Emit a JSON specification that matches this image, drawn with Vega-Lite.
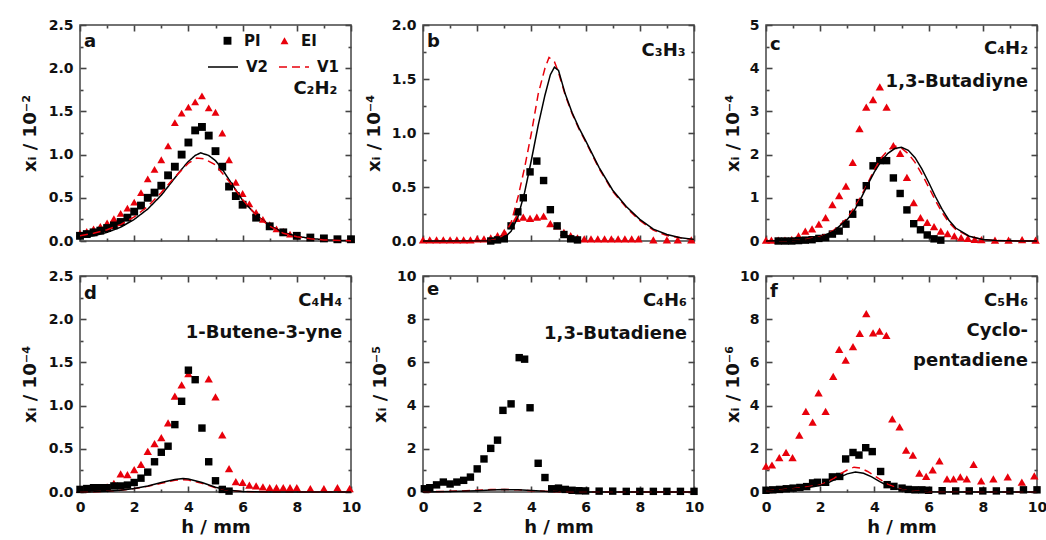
{
"$schema":"https://vega.github.io/schema/vega-lite/v6.json",
"background":"white",
"padding":{"left":20,"top":17,"right":0,"bottom":0},
"columns":3,
"bounds":"flush",
"spacing":{"row":35,"column":72},
"resolve":{"scale":{"color":"independent","shape":"independent","strokeDash":"independent"},"legend":{"color":"independent","shape":"independent","strokeDash":"independent"}},
"config":{
 "view":{"stroke":"#444","strokeWidth":1.5},
 "font":"DejaVu Sans",
 "axis":{"labelFont":"DejaVu Sans","labelFontWeight":"bold","labelFontSize":14,"labelColor":"#111","titleFont":"DejaVu Sans","titleFontWeight":"bold","titleFontSize":18,"titleColor":"#111","tickColor":"#444","tickWidth":1.6,"domain":false,"grid":false},
 "legend":{"labelFont":"DejaVu Sans","labelFontWeight":"bold","labelFontSize":15,"labelColor":"#111"},
 "text":{"font":"DejaVu Sans","fontWeight":"bold","fontSize":18,"color":"#111"}
},
"datasets":{
"a":[
{"h":0,"v":0.09,"s":"EI"},{"h":0.25,"v":0.11,"s":"EI"},{"h":0.5,"v":0.14,"s":"EI"},{"h":0.75,"v":0.17,"s":"EI"},{"h":1,"v":0.21,"s":"EI"},{"h":1.25,"v":0.26,"s":"EI"},{"h":1.5,"v":0.32,"s":"EI"},{"h":1.75,"v":0.38,"s":"EI"},{"h":2,"v":0.45,"s":"EI"},{"h":2.25,"v":0.56,"s":"EI"},{"h":2.5,"v":0.72,"s":"EI"},{"h":2.75,"v":0.83,"s":"EI"},{"h":3,"v":0.94,"s":"EI"},{"h":3.25,"v":1.1,"s":"EI"},{"h":3.5,"v":1.37,"s":"EI"},{"h":3.75,"v":1.48,"s":"EI"},{"h":4,"v":1.55,"s":"EI"},{"h":4.25,"v":1.61,"s":"EI"},{"h":4.5,"v":1.68,"s":"EI"},{"h":4.75,"v":1.54,"s":"EI"},{"h":5,"v":1.49,"s":"EI"},{"h":5.25,"v":1.25,"s":"EI"},{"h":5.5,"v":0.94,"s":"EI"},{"h":5.75,"v":0.68,"s":"EI"},{"h":6,"v":0.55,"s":"EI"},{"h":6.25,"v":0.43,"s":"EI"},{"h":6.5,"v":0.33,"s":"EI"},{"h":6.75,"v":0.25,"s":"EI"},{"h":7,"v":0.19,"s":"EI"},{"h":7.25,"v":0.14,"s":"EI"},{"h":7.5,"v":0.11,"s":"EI"},{"h":7.75,"v":0.08,"s":"EI"},{"h":8,"v":0.06,"s":"EI"},{"h":8.5,"v":0.04,"s":"EI"},{"h":9,"v":0.03,"s":"EI"},{"h":9.5,"v":0.02,"s":"EI"},{"h":10,"v":0.02,"s":"EI"},
{"h":0,"v":0.06,"s":"PI"},{"h":0.25,"v":0.08,"s":"PI"},{"h":0.5,"v":0.1,"s":"PI"},{"h":0.75,"v":0.12,"s":"PI"},{"h":1,"v":0.15,"s":"PI"},{"h":1.25,"v":0.18,"s":"PI"},{"h":1.5,"v":0.22,"s":"PI"},{"h":1.75,"v":0.27,"s":"PI"},{"h":2,"v":0.34,"s":"PI"},{"h":2.25,"v":0.41,"s":"PI"},{"h":2.5,"v":0.5,"s":"PI"},{"h":2.75,"v":0.56,"s":"PI"},{"h":3,"v":0.64,"s":"PI"},{"h":3.25,"v":0.76,"s":"PI"},{"h":3.5,"v":0.86,"s":"PI"},{"h":3.75,"v":1.0,"s":"PI"},{"h":4,"v":1.14,"s":"PI"},{"h":4.25,"v":1.28,"s":"PI"},{"h":4.5,"v":1.32,"s":"PI"},{"h":4.75,"v":1.22,"s":"PI"},{"h":5,"v":1.04,"s":"PI"},{"h":5.25,"v":0.86,"s":"PI"},{"h":5.5,"v":0.63,"s":"PI"},{"h":5.75,"v":0.52,"s":"PI"},{"h":6,"v":0.42,"s":"PI"},{"h":6.5,"v":0.27,"s":"PI"},{"h":7,"v":0.17,"s":"PI"},{"h":7.5,"v":0.1,"s":"PI"},{"h":8,"v":0.06,"s":"PI"},{"h":8.5,"v":0.04,"s":"PI"},{"h":9,"v":0.03,"s":"PI"},{"h":9.5,"v":0.02,"s":"PI"},{"h":10,"v":0.02,"s":"PI"},
{"h":0,"v":0.04,"s":"V2"},{"h":0.5,"v":0.06,"s":"V2"},{"h":1,"v":0.1,"s":"V2"},{"h":1.5,"v":0.16,"s":"V2"},{"h":2,"v":0.25,"s":"V2"},{"h":2.5,"v":0.37,"s":"V2"},{"h":3,"v":0.53,"s":"V2"},{"h":3.25,"v":0.63,"s":"V2"},{"h":3.5,"v":0.73,"s":"V2"},{"h":3.75,"v":0.83,"s":"V2"},{"h":4,"v":0.92,"s":"V2"},{"h":4.25,"v":0.99,"s":"V2"},{"h":4.45,"v":1.02,"s":"V2"},{"h":4.75,"v":0.99,"s":"V2"},{"h":5,"v":0.93,"s":"V2"},{"h":5.25,"v":0.83,"s":"V2"},{"h":5.5,"v":0.71,"s":"V2"},{"h":5.75,"v":0.59,"s":"V2"},{"h":6,"v":0.47,"s":"V2"},{"h":6.5,"v":0.3,"s":"V2"},{"h":7,"v":0.18,"s":"V2"},{"h":7.5,"v":0.1,"s":"V2"},{"h":8,"v":0.055,"s":"V2"},{"h":8.5,"v":0.03,"s":"V2"},{"h":9,"v":0.015,"s":"V2"},{"h":9.5,"v":0.008,"s":"V2"},{"h":10,"v":0.004,"s":"V2"},
{"h":0,"v":0.06,"s":"V1"},{"h":0.5,"v":0.09,"s":"V1"},{"h":1,"v":0.13,"s":"V1"},{"h":1.5,"v":0.19,"s":"V1"},{"h":2,"v":0.28,"s":"V1"},{"h":2.5,"v":0.4,"s":"V1"},{"h":3,"v":0.56,"s":"V1"},{"h":3.5,"v":0.74,"s":"V1"},{"h":4,"v":0.9,"s":"V1"},{"h":4.3,"v":0.96,"s":"V1"},{"h":4.6,"v":0.95,"s":"V1"},{"h":5,"v":0.88,"s":"V1"},{"h":5.5,"v":0.69,"s":"V1"},{"h":6,"v":0.48,"s":"V1"},{"h":6.5,"v":0.3,"s":"V1"},{"h":7,"v":0.17,"s":"V1"},{"h":7.5,"v":0.09,"s":"V1"},{"h":8,"v":0.05,"s":"V1"},{"h":8.5,"v":0.025,"s":"V1"},{"h":9,"v":0.012,"s":"V1"},{"h":10,"v":0.003,"s":"V1"}
],
"b":[
{"h":0,"v":0.01,"s":"EI"},{"h":0.25,"v":0.01,"s":"EI"},{"h":0.5,"v":0.01,"s":"EI"},{"h":0.75,"v":0.01,"s":"EI"},{"h":1,"v":0.01,"s":"EI"},{"h":1.25,"v":0.01,"s":"EI"},{"h":1.5,"v":0.01,"s":"EI"},{"h":1.75,"v":0.01,"s":"EI"},{"h":2,"v":0.02,"s":"EI"},{"h":2.25,"v":0.02,"s":"EI"},{"h":2.5,"v":0.03,"s":"EI"},{"h":2.75,"v":0.05,"s":"EI"},{"h":3,"v":0.08,"s":"EI"},{"h":3.25,"v":0.15,"s":"EI"},{"h":3.45,"v":0.21,"s":"EI"},{"h":3.7,"v":0.22,"s":"EI"},{"h":3.95,"v":0.21,"s":"EI"},{"h":4.2,"v":0.22,"s":"EI"},{"h":4.45,"v":0.23,"s":"EI"},{"h":4.7,"v":0.16,"s":"EI"},{"h":4.95,"v":0.14,"s":"EI"},{"h":5.2,"v":0.08,"s":"EI"},{"h":5.45,"v":0.05,"s":"EI"},{"h":5.7,"v":0.03,"s":"EI"},{"h":5.95,"v":0.02,"s":"EI"},{"h":6.2,"v":0.02,"s":"EI"},{"h":6.45,"v":0.02,"s":"EI"},{"h":6.7,"v":0.02,"s":"EI"},{"h":6.95,"v":0.02,"s":"EI"},{"h":7.2,"v":0.02,"s":"EI"},{"h":7.45,"v":0.02,"s":"EI"},{"h":7.7,"v":0.02,"s":"EI"},{"h":7.95,"v":0.02,"s":"EI"},{"h":8.5,"v":0.01,"s":"EI"},{"h":9,"v":0.01,"s":"EI"},{"h":9.4,"v":0.01,"s":"EI"},{"h":9.9,"v":0.01,"s":"EI"},
{"h":2.5,"v":0.0,"s":"PI"},{"h":2.75,"v":0.01,"s":"PI"},{"h":3,"v":0.02,"s":"PI"},{"h":3.25,"v":0.14,"s":"PI"},{"h":3.5,"v":0.27,"s":"PI"},{"h":3.7,"v":0.4,"s":"PI"},{"h":3.95,"v":0.64,"s":"PI"},{"h":4.2,"v":0.74,"s":"PI"},{"h":4.45,"v":0.56,"s":"PI"},{"h":4.7,"v":0.29,"s":"PI"},{"h":4.95,"v":0.14,"s":"PI"},{"h":5.2,"v":0.06,"s":"PI"},{"h":5.45,"v":0.02,"s":"PI"},{"h":5.7,"v":0.01,"s":"PI"},
{"h":0,"v":0,"s":"V2"},{"h":2.5,"v":0.003,"s":"V2"},{"h":2.75,"v":0.01,"s":"V2"},{"h":3,"v":0.03,"s":"V2"},{"h":3.25,"v":0.09,"s":"V2"},{"h":3.5,"v":0.22,"s":"V2"},{"h":3.75,"v":0.45,"s":"V2"},{"h":4,"v":0.75,"s":"V2"},{"h":4.25,"v":1.07,"s":"V2"},{"h":4.5,"v":1.35,"s":"V2"},{"h":4.7,"v":1.54,"s":"V2"},{"h":4.85,"v":1.61,"s":"V2"},{"h":5,"v":1.58,"s":"V2"},{"h":5.25,"v":1.36,"s":"V2"},{"h":5.5,"v":1.19,"s":"V2"},{"h":5.75,"v":1.05,"s":"V2"},{"h":6,"v":0.93,"s":"V2"},{"h":6.5,"v":0.68,"s":"V2"},{"h":7,"v":0.47,"s":"V2"},{"h":7.5,"v":0.32,"s":"V2"},{"h":8,"v":0.2,"s":"V2"},{"h":8.5,"v":0.11,"s":"V2"},{"h":9,"v":0.06,"s":"V2"},{"h":9.5,"v":0.03,"s":"V2"},{"h":10,"v":0.015,"s":"V2"},
{"h":0,"v":0,"s":"V1"},{"h":2.5,"v":0.005,"s":"V1"},{"h":2.75,"v":0.02,"s":"V1"},{"h":3,"v":0.06,"s":"V1"},{"h":3.25,"v":0.17,"s":"V1"},{"h":3.5,"v":0.4,"s":"V1"},{"h":3.75,"v":0.68,"s":"V1"},{"h":4,"v":1.0,"s":"V1"},{"h":4.25,"v":1.36,"s":"V1"},{"h":4.5,"v":1.6,"s":"V1"},{"h":4.65,"v":1.7,"s":"V1"},{"h":4.85,"v":1.66,"s":"V1"},{"h":5,"v":1.56,"s":"V1"},{"h":5.25,"v":1.35,"s":"V1"},{"h":5.5,"v":1.18,"s":"V1"},{"h":5.75,"v":1.04,"s":"V1"},{"h":6,"v":0.92,"s":"V1"},{"h":6.5,"v":0.67,"s":"V1"},{"h":7,"v":0.46,"s":"V1"},{"h":7.5,"v":0.31,"s":"V1"},{"h":8,"v":0.19,"s":"V1"},{"h":8.5,"v":0.1,"s":"V1"},{"h":9,"v":0.05,"s":"V1"},{"h":9.5,"v":0.03,"s":"V1"},{"h":10,"v":0.01,"s":"V1"}
],
"c":[
{"h":0,"v":0.02,"s":"EI"},{"h":0.2,"v":0.02,"s":"EI"},{"h":0.45,"v":0.02,"s":"EI"},{"h":0.7,"v":0.02,"s":"EI"},{"h":0.95,"v":0.04,"s":"EI"},{"h":1.2,"v":0.12,"s":"EI"},{"h":1.45,"v":0.23,"s":"EI"},{"h":1.7,"v":0.28,"s":"EI"},{"h":1.95,"v":0.39,"s":"EI"},{"h":2.2,"v":0.54,"s":"EI"},{"h":2.45,"v":0.84,"s":"EI"},{"h":2.7,"v":1.05,"s":"EI"},{"h":2.95,"v":1.27,"s":"EI"},{"h":3.2,"v":1.82,"s":"EI"},{"h":3.45,"v":2.6,"s":"EI"},{"h":3.7,"v":3.1,"s":"EI"},{"h":3.95,"v":3.27,"s":"EI"},{"h":4.2,"v":3.57,"s":"EI"},{"h":4.45,"v":3.1,"s":"EI"},{"h":4.7,"v":2.21,"s":"EI"},{"h":4.95,"v":2.03,"s":"EI"},{"h":5.2,"v":1.47,"s":"EI"},{"h":5.45,"v":0.89,"s":"EI"},{"h":5.7,"v":0.54,"s":"EI"},{"h":5.95,"v":0.43,"s":"EI"},{"h":6.2,"v":0.33,"s":"EI"},{"h":6.45,"v":0.23,"s":"EI"},{"h":6.7,"v":0.17,"s":"EI"},{"h":6.95,"v":0.12,"s":"EI"},{"h":7.2,"v":0.08,"s":"EI"},{"h":7.45,"v":0.06,"s":"EI"},{"h":7.7,"v":0.04,"s":"EI"},{"h":7.95,"v":0.03,"s":"EI"},{"h":8.45,"v":0.02,"s":"EI"},{"h":8.95,"v":0.02,"s":"EI"},{"h":9.45,"v":0.03,"s":"EI"},{"h":9.95,"v":0.02,"s":"EI"},
{"h":0.45,"v":0,"s":"PI"},{"h":0.7,"v":0,"s":"PI"},{"h":0.95,"v":0,"s":"PI"},{"h":1.2,"v":0.01,"s":"PI"},{"h":1.45,"v":0.02,"s":"PI"},{"h":1.7,"v":0.03,"s":"PI"},{"h":1.95,"v":0.06,"s":"PI"},{"h":2.2,"v":0.08,"s":"PI"},{"h":2.45,"v":0.16,"s":"PI"},{"h":2.7,"v":0.23,"s":"PI"},{"h":2.95,"v":0.39,"s":"PI"},{"h":3.2,"v":0.62,"s":"PI"},{"h":3.45,"v":0.89,"s":"PI"},{"h":3.7,"v":1.28,"s":"PI"},{"h":3.95,"v":1.74,"s":"PI"},{"h":4.2,"v":1.86,"s":"PI"},{"h":4.45,"v":1.86,"s":"PI"},{"h":4.7,"v":1.46,"s":"PI"},{"h":4.95,"v":1.1,"s":"PI"},{"h":5.2,"v":0.72,"s":"PI"},{"h":5.45,"v":0.4,"s":"PI"},{"h":5.7,"v":0.26,"s":"PI"},{"h":5.95,"v":0.14,"s":"PI"},{"h":6.2,"v":0.05,"s":"PI"},{"h":6.45,"v":0.02,"s":"PI"},
{"h":0,"v":0,"s":"V2"},{"h":1,"v":0.01,"s":"V2"},{"h":1.5,"v":0.03,"s":"V2"},{"h":2,"v":0.09,"s":"V2"},{"h":2.5,"v":0.23,"s":"V2"},{"h":3,"v":0.5,"s":"V2"},{"h":3.25,"v":0.7,"s":"V2"},{"h":3.5,"v":0.98,"s":"V2"},{"h":3.75,"v":1.3,"s":"V2"},{"h":4,"v":1.6,"s":"V2"},{"h":4.25,"v":1.85,"s":"V2"},{"h":4.5,"v":2.03,"s":"V2"},{"h":4.75,"v":2.14,"s":"V2"},{"h":5,"v":2.17,"s":"V2"},{"h":5.25,"v":2.1,"s":"V2"},{"h":5.5,"v":1.93,"s":"V2"},{"h":5.75,"v":1.67,"s":"V2"},{"h":6,"v":1.36,"s":"V2"},{"h":6.25,"v":1.03,"s":"V2"},{"h":6.5,"v":0.73,"s":"V2"},{"h":6.75,"v":0.48,"s":"V2"},{"h":7,"v":0.3,"s":"V2"},{"h":7.5,"v":0.11,"s":"V2"},{"h":8,"v":0.035,"s":"V2"},{"h":8.5,"v":0.01,"s":"V2"},{"h":9,"v":0.003,"s":"V2"},{"h":10,"v":0,"s":"V2"},
{"h":0,"v":0,"s":"V1"},{"h":1,"v":0.01,"s":"V1"},{"h":1.5,"v":0.04,"s":"V1"},{"h":2,"v":0.1,"s":"V1"},{"h":2.5,"v":0.25,"s":"V1"},{"h":3,"v":0.53,"s":"V1"},{"h":3.5,"v":1.02,"s":"V1"},{"h":4,"v":1.65,"s":"V1"},{"h":4.25,"v":1.92,"s":"V1"},{"h":4.5,"v":2.1,"s":"V1"},{"h":4.75,"v":2.2,"s":"V1"},{"h":5,"v":2.15,"s":"V1"},{"h":5.25,"v":2.02,"s":"V1"},{"h":5.5,"v":1.82,"s":"V1"},{"h":5.75,"v":1.55,"s":"V1"},{"h":6,"v":1.25,"s":"V1"},{"h":6.25,"v":0.94,"s":"V1"},{"h":6.5,"v":0.66,"s":"V1"},{"h":6.75,"v":0.43,"s":"V1"},{"h":7,"v":0.27,"s":"V1"},{"h":7.5,"v":0.1,"s":"V1"},{"h":8,"v":0.03,"s":"V1"},{"h":8.5,"v":0.01,"s":"V1"},{"h":10,"v":0,"s":"V1"}
],
"d":[
{"h":0,"v":0.03,"s":"EI"},{"h":0.25,"v":0.04,"s":"EI"},{"h":0.5,"v":0.05,"s":"EI"},{"h":0.75,"v":0.05,"s":"EI"},{"h":1,"v":0.06,"s":"EI"},{"h":1.25,"v":0.1,"s":"EI"},{"h":1.5,"v":0.21,"s":"EI"},{"h":1.75,"v":0.2,"s":"EI"},{"h":2,"v":0.26,"s":"EI"},{"h":2.25,"v":0.32,"s":"EI"},{"h":2.5,"v":0.47,"s":"EI"},{"h":2.75,"v":0.56,"s":"EI"},{"h":3,"v":0.63,"s":"EI"},{"h":3.25,"v":0.8,"s":"EI"},{"h":3.5,"v":1.11,"s":"EI"},{"h":3.75,"v":1.24,"s":"EI"},{"h":4,"v":1.37,"s":"EI"},{"h":4.75,"v":1.31,"s":"EI"},{"h":5,"v":1.1,"s":"EI"},{"h":5.25,"v":0.66,"s":"EI"},{"h":5.5,"v":0.27,"s":"EI"},{"h":5.75,"v":0.12,"s":"EI"},{"h":6,"v":0.11,"s":"EI"},{"h":6.25,"v":0.08,"s":"EI"},{"h":6.5,"v":0.07,"s":"EI"},{"h":6.75,"v":0.06,"s":"EI"},{"h":7,"v":0.05,"s":"EI"},{"h":7.25,"v":0.05,"s":"EI"},{"h":7.5,"v":0.05,"s":"EI"},{"h":7.75,"v":0.05,"s":"EI"},{"h":8,"v":0.05,"s":"EI"},{"h":8.5,"v":0.04,"s":"EI"},{"h":9,"v":0.04,"s":"EI"},{"h":9.5,"v":0.05,"s":"EI"},{"h":9.95,"v":0.04,"s":"EI"},
{"h":0,"v":0.03,"s":"PI"},{"h":0.25,"v":0.04,"s":"PI"},{"h":0.5,"v":0.05,"s":"PI"},{"h":0.75,"v":0.05,"s":"PI"},{"h":1,"v":0.05,"s":"PI"},{"h":1.25,"v":0.07,"s":"PI"},{"h":1.5,"v":0.07,"s":"PI"},{"h":1.75,"v":0.08,"s":"PI"},{"h":2,"v":0.11,"s":"PI"},{"h":2.25,"v":0.16,"s":"PI"},{"h":2.5,"v":0.23,"s":"PI"},{"h":2.75,"v":0.35,"s":"PI"},{"h":3,"v":0.46,"s":"PI"},{"h":3.25,"v":0.53,"s":"PI"},{"h":3.5,"v":0.78,"s":"PI"},{"h":3.75,"v":1.05,"s":"PI"},{"h":4,"v":1.41,"s":"PI"},{"h":4.25,"v":1.3,"s":"PI"},{"h":4.5,"v":0.74,"s":"PI"},{"h":4.75,"v":0.35,"s":"PI"},{"h":5,"v":0.13,"s":"PI"},{"h":5.25,"v":0.03,"s":"PI"},{"h":5.5,"v":0.01,"s":"PI"},
{"h":0,"v":0,"s":"V2"},{"h":0.5,"v":0.003,"s":"V2"},{"h":1,"v":0.01,"s":"V2"},{"h":1.5,"v":0.02,"s":"V2"},{"h":2,"v":0.04,"s":"V2"},{"h":2.5,"v":0.07,"s":"V2"},{"h":3,"v":0.11,"s":"V2"},{"h":3.5,"v":0.145,"s":"V2"},{"h":3.8,"v":0.155,"s":"V2"},{"h":4,"v":0.15,"s":"V2"},{"h":4.5,"v":0.11,"s":"V2"},{"h":5,"v":0.055,"s":"V2"},{"h":5.5,"v":0.02,"s":"V2"},{"h":6,"v":0.006,"s":"V2"},{"h":7,"v":0.001,"s":"V2"},{"h":10,"v":0,"s":"V2"},
{"h":0,"v":0,"s":"V1"},{"h":0.5,"v":0.003,"s":"V1"},{"h":1,"v":0.01,"s":"V1"},{"h":1.5,"v":0.02,"s":"V1"},{"h":2,"v":0.04,"s":"V1"},{"h":2.5,"v":0.065,"s":"V1"},{"h":3,"v":0.1,"s":"V1"},{"h":3.5,"v":0.135,"s":"V1"},{"h":3.75,"v":0.142,"s":"V1"},{"h":4,"v":0.138,"s":"V1"},{"h":4.5,"v":0.1,"s":"V1"},{"h":5,"v":0.05,"s":"V1"},{"h":5.5,"v":0.018,"s":"V1"},{"h":6,"v":0.005,"s":"V1"},{"h":7,"v":0.001,"s":"V1"},{"h":10,"v":0,"s":"V1"}
],
"e":[
{"h":0.05,"v":0.15,"s":"PI"},{"h":0.25,"v":0.2,"s":"PI"},{"h":0.5,"v":0.33,"s":"PI"},{"h":0.75,"v":0.46,"s":"PI"},{"h":1,"v":0.37,"s":"PI"},{"h":1.25,"v":0.46,"s":"PI"},{"h":1.5,"v":0.54,"s":"PI"},{"h":1.75,"v":0.69,"s":"PI"},{"h":2,"v":1.07,"s":"PI"},{"h":2.25,"v":1.53,"s":"PI"},{"h":2.5,"v":2.02,"s":"PI"},{"h":2.75,"v":2.4,"s":"PI"},{"h":2.95,"v":3.78,"s":"PI"},{"h":3.25,"v":4.08,"s":"PI"},{"h":3.55,"v":6.22,"s":"PI"},{"h":3.75,"v":6.15,"s":"PI"},{"h":3.95,"v":3.9,"s":"PI"},{"h":4.25,"v":1.33,"s":"PI"},{"h":4.5,"v":0.67,"s":"PI"},{"h":4.75,"v":0.15,"s":"PI"},{"h":5,"v":0.18,"s":"PI"},{"h":5.25,"v":0.12,"s":"PI"},{"h":5.5,"v":0.08,"s":"PI"},{"h":5.75,"v":0.06,"s":"PI"},{"h":6,"v":0.05,"s":"PI"},{"h":6.5,"v":0.04,"s":"PI"},{"h":7,"v":0.04,"s":"PI"},{"h":7.5,"v":0.03,"s":"PI"},{"h":8,"v":0.03,"s":"PI"},{"h":8.5,"v":0.03,"s":"PI"},{"h":9,"v":0.03,"s":"PI"},{"h":9.5,"v":0.03,"s":"PI"},{"h":10,"v":0.03,"s":"PI"},
{"h":0,"v":0,"s":"V2"},{"h":1,"v":0.02,"s":"V2"},{"h":2,"v":0.06,"s":"V2"},{"h":2.5,"v":0.09,"s":"V2"},{"h":3,"v":0.11,"s":"V2"},{"h":3.5,"v":0.1,"s":"V2"},{"h":4,"v":0.07,"s":"V2"},{"h":4.5,"v":0.03,"s":"V2"},{"h":5,"v":0.01,"s":"V2"},{"h":6,"v":0,"s":"V2"},{"h":10,"v":0,"s":"V2"},
{"h":0,"v":0.01,"s":"V1"},{"h":1,"v":0.03,"s":"V1"},{"h":2,"v":0.08,"s":"V1"},{"h":2.5,"v":0.11,"s":"V1"},{"h":3,"v":0.12,"s":"V1"},{"h":3.5,"v":0.1,"s":"V1"},{"h":4,"v":0.06,"s":"V1"},{"h":4.5,"v":0.03,"s":"V1"},{"h":5,"v":0.01,"s":"V1"},{"h":6,"v":0,"s":"V1"},{"h":10,"v":0,"s":"V1"}
],
"f":[
{"h":0,"v":1.2,"s":"EI"},{"h":0.22,"v":1.25,"s":"EI"},{"h":0.49,"v":1.59,"s":"EI"},{"h":0.74,"v":1.83,"s":"EI"},{"h":0.98,"v":1.59,"s":"EI"},{"h":1.23,"v":2.63,"s":"EI"},{"h":1.47,"v":3.73,"s":"EI"},{"h":1.72,"v":3.24,"s":"EI"},{"h":1.94,"v":4.59,"s":"EI"},{"h":2.2,"v":3.73,"s":"EI"},{"h":2.48,"v":5.35,"s":"EI"},{"h":2.7,"v":6.6,"s":"EI"},{"h":2.94,"v":6.11,"s":"EI"},{"h":3.21,"v":6.73,"s":"EI"},{"h":3.46,"v":7.34,"s":"EI"},{"h":3.7,"v":8.26,"s":"EI"},{"h":3.95,"v":7.37,"s":"EI"},{"h":4.19,"v":7.45,"s":"EI"},{"h":4.44,"v":7.25,"s":"EI"},{"h":4.66,"v":3.39,"s":"EI"},{"h":4.93,"v":3.01,"s":"EI"},{"h":5.17,"v":1.94,"s":"EI"},{"h":5.42,"v":1.71,"s":"EI"},{"h":5.66,"v":0.87,"s":"EI"},{"h":5.91,"v":0.72,"s":"EI"},{"h":6.15,"v":1.02,"s":"EI"},{"h":6.4,"v":1.44,"s":"EI"},{"h":6.68,"v":0.61,"s":"EI"},{"h":6.92,"v":0.61,"s":"EI"},{"h":7.17,"v":0.7,"s":"EI"},{"h":7.41,"v":0.61,"s":"EI"},{"h":7.66,"v":1.28,"s":"EI"},{"h":7.94,"v":0.52,"s":"EI"},{"h":8.39,"v":0.61,"s":"EI"},{"h":8.92,"v":0.7,"s":"EI"},{"h":9.44,"v":0.46,"s":"EI"},{"h":9.9,"v":0.75,"s":"EI"},
{"h":0,"v":0.08,"s":"PI"},{"h":0.25,"v":0.1,"s":"PI"},{"h":0.5,"v":0.12,"s":"PI"},{"h":0.75,"v":0.15,"s":"PI"},{"h":1,"v":0.18,"s":"PI"},{"h":1.25,"v":0.21,"s":"PI"},{"h":1.5,"v":0.25,"s":"PI"},{"h":1.72,"v":0.42,"s":"PI"},{"h":1.9,"v":0.45,"s":"PI"},{"h":2.2,"v":0.45,"s":"PI"},{"h":2.45,"v":0.7,"s":"PI"},{"h":2.72,"v":0.72,"s":"PI"},{"h":2.94,"v":1.53,"s":"PI"},{"h":3.21,"v":1.83,"s":"PI"},{"h":3.43,"v":1.71,"s":"PI"},{"h":3.68,"v":2.05,"s":"PI"},{"h":3.92,"v":1.87,"s":"PI"},{"h":4.23,"v":0.95,"s":"PI"},{"h":4.47,"v":0.34,"s":"PI"},{"h":4.72,"v":0.26,"s":"PI"},{"h":5.02,"v":0.18,"s":"PI"},{"h":5.25,"v":0.12,"s":"PI"},{"h":5.5,"v":0.1,"s":"PI"},{"h":5.75,"v":0.1,"s":"PI"},{"h":6,"v":0.08,"s":"PI"},{"h":6.5,"v":0.06,"s":"PI"},{"h":7,"v":0.05,"s":"PI"},{"h":7.5,"v":0.05,"s":"PI"},{"h":8,"v":0.05,"s":"PI"},{"h":8.5,"v":0.05,"s":"PI"},{"h":9,"v":0.05,"s":"PI"},{"h":9.5,"v":0.1,"s":"PI"},{"h":10,"v":0.1,"s":"PI"},
{"h":0,"v":0.05,"s":"V2"},{"h":0.5,"v":0.08,"s":"V2"},{"h":1,"v":0.14,"s":"V2"},{"h":1.5,"v":0.2,"s":"V2"},{"h":2,"v":0.3,"s":"V2"},{"h":2.25,"v":0.4,"s":"V2"},{"h":2.5,"v":0.55,"s":"V2"},{"h":2.75,"v":0.7,"s":"V2"},{"h":3,"v":0.84,"s":"V2"},{"h":3.3,"v":0.92,"s":"V2"},{"h":3.6,"v":0.87,"s":"V2"},{"h":3.9,"v":0.7,"s":"V2"},{"h":4.2,"v":0.48,"s":"V2"},{"h":4.5,"v":0.28,"s":"V2"},{"h":4.8,"v":0.15,"s":"V2"},{"h":5,"v":0.1,"s":"V2"},{"h":5.5,"v":0.04,"s":"V2"},{"h":6,"v":0.015,"s":"V2"},{"h":7,"v":0.005,"s":"V2"},{"h":10,"v":0,"s":"V2"},
{"h":0,"v":0.05,"s":"V1"},{"h":1,"v":0.15,"s":"V1"},{"h":2,"v":0.32,"s":"V1"},{"h":2.5,"v":0.62,"s":"V1"},{"h":2.75,"v":0.85,"s":"V1"},{"h":3,"v":1.02,"s":"V1"},{"h":3.25,"v":1.15,"s":"V1"},{"h":3.5,"v":1.1,"s":"V1"},{"h":3.75,"v":0.95,"s":"V1"},{"h":4,"v":0.75,"s":"V1"},{"h":4.5,"v":0.35,"s":"V1"},{"h":5,"v":0.12,"s":"V1"},{"h":5.5,"v":0.04,"s":"V1"},{"h":6,"v":0.01,"s":"V1"},{"h":10,"v":0,"s":"V1"}
]
},
"concat":[
{
 "data":{"name":"a"},"width":271,"height":216,
 "resolve":{"scale":{"color":"independent"},"legend":{"color":"independent","shape":"independent","strokeDash":"independent"}},
 "layer":[
  {"transform":[{"filter":"datum.s==='EI'||datum.s==='PI'"}],
   "mark":{"type":"point","filled":true,"size":62,"opacity":1},
   "encoding":{
    "x":{"field":"h","type":"quantitative","scale":{"domain":[0,10],"nice":false},"axis":{"orient":"bottom","values":[0,1,2,3,4,5,6,7,8,9,10],"labels":false,"title":null,"tickSize":{"condition":{"test":"round(datum.value) % 2 === 1","value":-3},"value":-6}}},
    "y":{"field":"v","type":"quantitative","scale":{"domain":[0,2.5],"nice":false},"axis":{"orient":"left","values":[0,0.25,0.5,0.75,1,1.25,1.5,1.75,2,2.25,2.5],"format":".1f","labelExpr":"round(datum.value*4) % 2 === 1 ? '' : datum.label","labelPadding":13,"title":"xᵢ / 10⁻²","titleX":-50,"titleY":108,"titleAngle":270,"titleBaseline":"middle","titleAlign":"center","tickSize":{"condition":{"test":"round(datum.value*4) % 2 === 1","value":-3},"value":-6}}},
    "color":{"field":"s","type":"nominal","scale":{"domain":["PI","EI"],"range":["#000000","#e8000b"]},"legend":{"orient":"none","legendX":140,"legendY":8,"direction":"horizontal","title":null,"padding":0,"columnPadding":16,"labelOffset":9,"symbolSize":62}},
    "shape":{"field":"s","type":"nominal","scale":{"domain":["PI","EI"],"range":["square","triangle-up"]},"legend":{"orient":"none","legendX":140,"legendY":8,"direction":"horizontal","title":null,"padding":0,"columnPadding":16,"labelOffset":9,"symbolSize":62}}
   }},
  {"transform":[{"filter":"datum.s==='V1'||datum.s==='V2'"}],
   "mark":{"type":"line","strokeWidth":1.5},
   "encoding":{
    "x":{"field":"h","type":"quantitative","axis":{"orient":"top","values":[0,1,2,3,4,5,6,7,8,9,10],"labels":false,"title":null,"tickSize":{"condition":{"test":"round(datum.value) % 2 === 1","value":-3},"value":-6}}},
    "y":{"field":"v","type":"quantitative","axis":{"orient":"right","values":[0,0.25,0.5,0.75,1,1.25,1.5,1.75,2,2.25,2.5],"labels":false,"title":null,"tickSize":{"condition":{"test":"round(datum.value*4) % 2 === 1","value":-3},"value":-6}}},
    "color":{"field":"s","type":"nominal","scale":{"domain":["V2","V1"],"range":["#000000","#e8000b"]},"legend":{"orient":"none","legendX":127,"legendY":26,"direction":"horizontal","title":null,"padding":0,"columnPadding":7,"labelOffset":7,"symbolSize":900,"symbolStrokeWidth":1.5}},
    "strokeDash":{"field":"s","type":"nominal","scale":{"domain":["V2","V1"],"range":[[1,0],[8,5]]},"legend":{"orient":"none","legendX":127,"legendY":26,"direction":"horizontal","title":null,"padding":0,"columnPadding":7,"labelOffset":7,"symbolSize":900,"symbolStrokeWidth":1.5}}
   }},
  {"data":{"values":[{"t":"a"}]},"mark":{"type":"text","align":"left","baseline":"top"},
   "encoding":{"x":{"datum":0.15,"type":"quantitative","axis":null},"y":{"datum":2.41,"type":"quantitative","axis":null},"text":{"field":"t"}}},
  {"data":{"values":[{"t":["C₂H₂"]}]},"mark":{"type":"text","align":"right","baseline":"top","lineHeight":32},
   "encoding":{"x":{"datum":9.5,"type":"quantitative","axis":null},"y":{"datum":1.86,"type":"quantitative","axis":null},"text":{"field":"t"}}}
 ]
},
{
 "data":{"name":"b"},"width":271,"height":216,
 "layer":[
  {"transform":[{"filter":"datum.s==='EI'"}],"mark":{"type":"point","shape":"triangle-up","filled":true,"size":70,"opacity":1,"color":"#e8000b"},
   "encoding":{
    "x":{"field":"h","type":"quantitative","scale":{"domain":[0,10],"nice":false},"axis":{"orient":"bottom","values":[0,1,2,3,4,5,6,7,8,9,10],"labels":false,"title":null,"tickSize":{"condition":{"test":"round(datum.value) % 2 === 1","value":-3},"value":-6}}},
    "y":{"field":"v","type":"quantitative","scale":{"domain":[0,2],"nice":false},"axis":{"orient":"left","values":[0,0.25,0.5,0.75,1,1.25,1.5,1.75,2],"format":".1f","labelExpr":"round(datum.value*4) % 2 === 1 ? '' : datum.label","labelPadding":13,"title":"xᵢ / 10⁻⁴","titleX":-48.5,"titleY":108,"titleAngle":270,"titleBaseline":"middle","titleAlign":"center","tickSize":{"condition":{"test":"round(datum.value*4) % 2 === 1","value":-3},"value":-6}}}
   }},
  {"transform":[{"filter":"datum.s==='PI'"}],"mark":{"type":"point","shape":"square","filled":true,"size":55,"opacity":1,"color":"#000000"},
   "encoding":{"x":{"field":"h","type":"quantitative","axis":null},"y":{"field":"v","type":"quantitative","axis":null}}},
  {"transform":[{"filter":"datum.s==='V1'"}],"mark":{"type":"line","color":"#e8000b","strokeWidth":1.5,"strokeDash":[8,5]},
   "encoding":{"x":{"field":"h","type":"quantitative","axis":null},"y":{"field":"v","type":"quantitative","axis":null}}},
  {"transform":[{"filter":"datum.s==='V2'"}],"mark":{"type":"line","color":"#000000","strokeWidth":1.5},
   "encoding":{
    "x":{"field":"h","type":"quantitative","axis":{"orient":"top","values":[0,1,2,3,4,5,6,7,8,9,10],"labels":false,"title":null,"tickSize":{"condition":{"test":"round(datum.value) % 2 === 1","value":-3},"value":-6}}},
    "y":{"field":"v","type":"quantitative","axis":{"orient":"right","values":[0,0.25,0.5,0.75,1,1.25,1.5,1.75,2],"labels":false,"title":null,"tickSize":{"condition":{"test":"round(datum.value*4) % 2 === 1","value":-3},"value":-6}}}
   }},
  {"data":{"values":[{"t":"b"}]},"mark":{"type":"text","align":"left","baseline":"top"},
   "encoding":{"x":{"datum":0.15,"type":"quantitative","axis":null},"y":{"datum":1.93,"type":"quantitative","axis":null},"text":{"field":"t"}}},
  {"data":{"values":[{"t":["C₃H₃"]}]},"mark":{"type":"text","align":"right","baseline":"top","lineHeight":32},
   "encoding":{"x":{"datum":9.69,"type":"quantitative","axis":null},"y":{"datum":1.845,"type":"quantitative","axis":null},"text":{"field":"t"}}}
 ]
},
{
 "data":{"name":"c"},"width":271,"height":216,
 "layer":[
  {"transform":[{"filter":"datum.s==='EI'"}],"mark":{"type":"point","shape":"triangle-up","filled":true,"size":70,"opacity":1,"color":"#e8000b"},
   "encoding":{
    "x":{"field":"h","type":"quantitative","scale":{"domain":[0,10],"nice":false},"axis":{"orient":"bottom","values":[0,1,2,3,4,5,6,7,8,9,10],"labels":false,"title":null,"tickSize":{"condition":{"test":"round(datum.value) % 2 === 1","value":-3},"value":-6}}},
    "y":{"field":"v","type":"quantitative","scale":{"domain":[0,5],"nice":false},"axis":{"orient":"left","values":[0,0.5,1,1.5,2,2.5,3,3.5,4,4.5,5],"format":".0f","labelExpr":"round(datum.value*2) % 2 === 1 ? '' : datum.label","labelPadding":13,"title":"xᵢ / 10⁻⁴","titleX":-33,"titleY":108,"titleAngle":270,"titleBaseline":"middle","titleAlign":"center","tickSize":{"condition":{"test":"round(datum.value*2) % 2 === 1","value":-3},"value":-6}}}
   }},
  {"transform":[{"filter":"datum.s==='PI'"}],"mark":{"type":"point","shape":"square","filled":true,"size":55,"opacity":1,"color":"#000000"},
   "encoding":{"x":{"field":"h","type":"quantitative","axis":null},"y":{"field":"v","type":"quantitative","axis":null}}},
  {"transform":[{"filter":"datum.s==='V1'"}],"mark":{"type":"line","color":"#e8000b","strokeWidth":1.5,"strokeDash":[8,5]},
   "encoding":{"x":{"field":"h","type":"quantitative","axis":null},"y":{"field":"v","type":"quantitative","axis":null}}},
  {"transform":[{"filter":"datum.s==='V2'"}],"mark":{"type":"line","color":"#000000","strokeWidth":1.5},
   "encoding":{
    "x":{"field":"h","type":"quantitative","axis":{"orient":"top","values":[0,1,2,3,4,5,6,7,8,9,10],"labels":false,"title":null,"tickSize":{"condition":{"test":"round(datum.value) % 2 === 1","value":-3},"value":-6}}},
    "y":{"field":"v","type":"quantitative","axis":{"orient":"right","values":[0,0.5,1,1.5,2,2.5,3,3.5,4,4.5,5],"labels":false,"title":null,"tickSize":{"condition":{"test":"round(datum.value*2) % 2 === 1","value":-3},"value":-6}}}
   }},
  {"data":{"values":[{"t":"c"}]},"mark":{"type":"text","align":"left","baseline":"top"},
   "encoding":{"x":{"datum":0.15,"type":"quantitative","axis":null},"y":{"datum":4.75,"type":"quantitative","axis":null},"text":{"field":"t"}}},
  {"data":{"values":[{"t":["C₄H₂","1,3-Butadiyne"]}]},"mark":{"type":"text","align":"right","baseline":"top","lineHeight":32.5},
   "encoding":{"x":{"datum":9.67,"type":"quantitative","axis":null},"y":{"datum":4.65,"type":"quantitative","axis":null},"text":{"field":"t"}}}
 ]
},
{
 "data":{"name":"d"},"width":271,"height":216,
 "layer":[
  {"transform":[{"filter":"datum.s==='EI'"}],"mark":{"type":"point","shape":"triangle-up","filled":true,"size":70,"opacity":1,"color":"#e8000b"},
   "encoding":{
    "x":{"field":"h","type":"quantitative","scale":{"domain":[0,10],"nice":false},"axis":{"orient":"bottom","values":[0,1,2,3,4,5,6,7,8,9,10],"labelExpr":"round(datum.value) % 2 === 1 ? '' : datum.label","labelFlush":false,"labelPadding":14,"title":"h / mm","titlePadding":4,"tickSize":{"condition":{"test":"round(datum.value) % 2 === 1","value":-3},"value":-6}}},
    "y":{"field":"v","type":"quantitative","scale":{"domain":[0,2.5],"nice":false},"axis":{"orient":"left","values":[0,0.25,0.5,0.75,1,1.25,1.5,1.75,2,2.25,2.5],"format":".1f","labelExpr":"round(datum.value*4) % 2 === 1 ? '' : datum.label","labelPadding":13,"title":"xᵢ / 10⁻⁴","titleX":-50,"titleY":108,"titleAngle":270,"titleBaseline":"middle","titleAlign":"center","tickSize":{"condition":{"test":"round(datum.value*4) % 2 === 1","value":-3},"value":-6}}}
   }},
  {"transform":[{"filter":"datum.s==='PI'"}],"mark":{"type":"point","shape":"square","filled":true,"size":55,"opacity":1,"color":"#000000"},
   "encoding":{"x":{"field":"h","type":"quantitative","axis":null},"y":{"field":"v","type":"quantitative","axis":null}}},
  {"transform":[{"filter":"datum.s==='V1'"}],"mark":{"type":"line","color":"#e8000b","strokeWidth":1.5,"strokeDash":[8,5]},
   "encoding":{"x":{"field":"h","type":"quantitative","axis":null},"y":{"field":"v","type":"quantitative","axis":null}}},
  {"transform":[{"filter":"datum.s==='V2'"}],"mark":{"type":"line","color":"#000000","strokeWidth":1.5},
   "encoding":{
    "x":{"field":"h","type":"quantitative","axis":{"orient":"top","values":[0,1,2,3,4,5,6,7,8,9,10],"labels":false,"title":null,"tickSize":{"condition":{"test":"round(datum.value) % 2 === 1","value":-3},"value":-6}}},
    "y":{"field":"v","type":"quantitative","axis":{"orient":"right","values":[0,0.25,0.5,0.75,1,1.25,1.5,1.75,2,2.25,2.5],"labels":false,"title":null,"tickSize":{"condition":{"test":"round(datum.value*4) % 2 === 1","value":-3},"value":-6}}}
   }},
  {"data":{"values":[{"t":"d"}]},"mark":{"type":"text","align":"left","baseline":"top"},
   "encoding":{"x":{"datum":0.15,"type":"quantitative","axis":null},"y":{"datum":2.4,"type":"quantitative","axis":null},"text":{"field":"t"}}},
  {"data":{"values":[{"t":["C₄H₄","1-Butene-3-yne"]}]},"mark":{"type":"text","align":"right","baseline":"top","lineHeight":31.6},
   "encoding":{"x":{"datum":9.68,"type":"quantitative","axis":null},"y":{"datum":2.31,"type":"quantitative","axis":null},"text":{"field":"t"}}}
 ]
},
{
 "data":{"name":"e"},"width":271,"height":216,
 "layer":[
  {"transform":[{"filter":"datum.s==='PI'"}],"mark":{"type":"point","shape":"square","filled":true,"size":55,"opacity":1,"color":"#000000"},
   "encoding":{
    "x":{"field":"h","type":"quantitative","scale":{"domain":[0,10],"nice":false},"axis":{"orient":"bottom","values":[0,1,2,3,4,5,6,7,8,9,10],"labelExpr":"round(datum.value) % 2 === 1 ? '' : datum.label","labelFlush":false,"labelPadding":14,"title":"h / mm","titlePadding":4,"tickSize":{"condition":{"test":"round(datum.value) % 2 === 1","value":-3},"value":-6}}},
    "y":{"field":"v","type":"quantitative","scale":{"domain":[0,10],"nice":false},"axis":{"orient":"left","values":[0,1,2,3,4,5,6,7,8,9,10],"format":".0f","labelExpr":"round(datum.value) % 2 === 1 ? '' : datum.label","labelPadding":13,"title":"xᵢ / 10⁻⁵","titleX":-43,"titleY":108,"titleAngle":270,"titleBaseline":"middle","titleAlign":"center","tickSize":{"condition":{"test":"round(datum.value) % 2 === 1","value":-3},"value":-6}}}
   }},
  {"transform":[{"filter":"datum.s==='V1'"}],"mark":{"type":"line","color":"#e8000b","strokeWidth":1.5,"strokeDash":[8,5]},
   "encoding":{"x":{"field":"h","type":"quantitative","axis":null},"y":{"field":"v","type":"quantitative","axis":null}}},
  {"transform":[{"filter":"datum.s==='V2'"}],"mark":{"type":"line","color":"#000000","strokeWidth":1.5},
   "encoding":{
    "x":{"field":"h","type":"quantitative","axis":{"orient":"top","values":[0,1,2,3,4,5,6,7,8,9,10],"labels":false,"title":null,"tickSize":{"condition":{"test":"round(datum.value) % 2 === 1","value":-3},"value":-6}}},
    "y":{"field":"v","type":"quantitative","axis":{"orient":"right","values":[0,1,2,3,4,5,6,7,8,9,10],"labels":false,"title":null,"tickSize":{"condition":{"test":"round(datum.value) % 2 === 1","value":-3},"value":-6}}}
   }},
  {"data":{"values":[{"t":"e"}]},"mark":{"type":"text","align":"left","baseline":"top"},
   "encoding":{"x":{"datum":0.15,"type":"quantitative","axis":null},"y":{"datum":9.75,"type":"quantitative","axis":null},"text":{"field":"t"}}},
  {"data":{"values":[{"t":["C₄H₆","1,3-Butadiene"]}]},"mark":{"type":"text","align":"right","baseline":"top","lineHeight":33},
   "encoding":{"x":{"datum":9.74,"type":"quantitative","axis":null},"y":{"datum":9.28,"type":"quantitative","axis":null},"text":{"field":"t"}}}
 ]
},
{
 "data":{"name":"f"},"width":271,"height":216,
 "layer":[
  {"transform":[{"filter":"datum.s==='EI'"}],"mark":{"type":"point","shape":"triangle-up","filled":true,"size":70,"opacity":1,"color":"#e8000b"},
   "encoding":{
    "x":{"field":"h","type":"quantitative","scale":{"domain":[0,10],"nice":false},"axis":{"orient":"bottom","values":[0,1,2,3,4,5,6,7,8,9,10],"labelExpr":"round(datum.value) % 2 === 1 ? '' : datum.label","labelFlush":false,"labelPadding":14,"title":"h / mm","titlePadding":4,"tickSize":{"condition":{"test":"round(datum.value) % 2 === 1","value":-3},"value":-6}}},
    "y":{"field":"v","type":"quantitative","scale":{"domain":[0,10],"nice":false},"axis":{"orient":"left","values":[0,1,2,3,4,5,6,7,8,9,10],"format":".0f","labelExpr":"round(datum.value) % 2 === 1 ? '' : datum.label","labelPadding":13,"title":"xᵢ / 10⁻⁶","titleX":-33,"titleY":108,"titleAngle":270,"titleBaseline":"middle","titleAlign":"center","tickSize":{"condition":{"test":"round(datum.value) % 2 === 1","value":-3},"value":-6}}}
   }},
  {"transform":[{"filter":"datum.s==='PI'"}],"mark":{"type":"point","shape":"square","filled":true,"size":55,"opacity":1,"color":"#000000"},
   "encoding":{"x":{"field":"h","type":"quantitative","axis":null},"y":{"field":"v","type":"quantitative","axis":null}}},
  {"transform":[{"filter":"datum.s==='V1'"}],"mark":{"type":"line","color":"#e8000b","strokeWidth":1.5,"strokeDash":[8,5]},
   "encoding":{"x":{"field":"h","type":"quantitative","axis":null},"y":{"field":"v","type":"quantitative","axis":null}}},
  {"transform":[{"filter":"datum.s==='V2'"}],"mark":{"type":"line","color":"#000000","strokeWidth":1.5},
   "encoding":{
    "x":{"field":"h","type":"quantitative","axis":{"orient":"top","values":[0,1,2,3,4,5,6,7,8,9,10],"labels":false,"title":null,"tickSize":{"condition":{"test":"round(datum.value) % 2 === 1","value":-3},"value":-6}}},
    "y":{"field":"v","type":"quantitative","axis":{"orient":"right","values":[0,1,2,3,4,5,6,7,8,9,10],"labels":false,"title":null,"tickSize":{"condition":{"test":"round(datum.value) % 2 === 1","value":-3},"value":-6}}}
   }},
  {"data":{"values":[{"t":"f"}]},"mark":{"type":"text","align":"left","baseline":"top"},
   "encoding":{"x":{"datum":0.15,"type":"quantitative","axis":null},"y":{"datum":9.68,"type":"quantitative","axis":null},"text":{"field":"t"}}},
  {"data":{"values":[{"t":["C₅H₆","Cyclo-","pentadiene"]}]},"mark":{"type":"text","align":"right","baseline":"top","lineHeight":30},
   "encoding":{"x":{"datum":9.67,"type":"quantitative","axis":null},"y":{"datum":9.28,"type":"quantitative","axis":null},"text":{"field":"t"}}}
 ]
}
]
}
